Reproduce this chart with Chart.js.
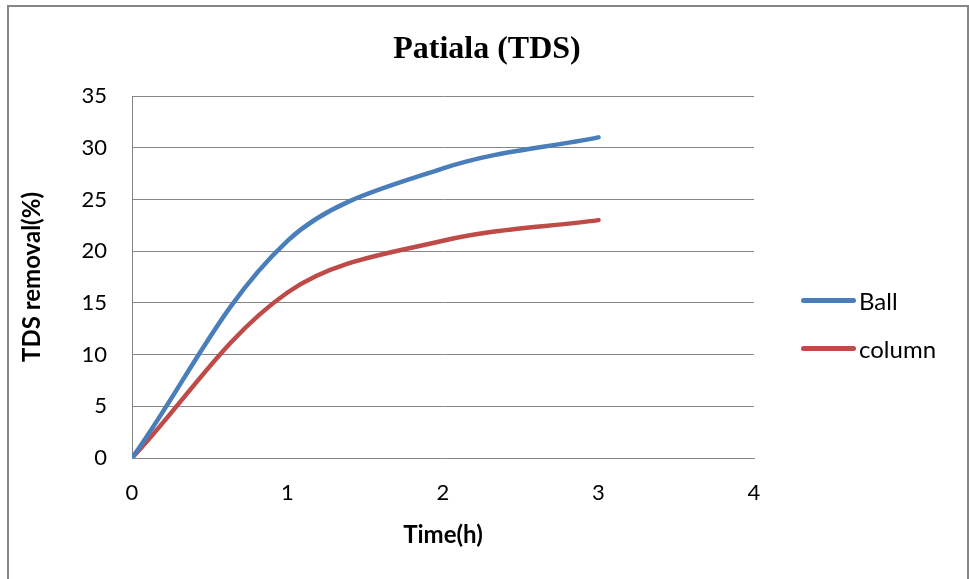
<!DOCTYPE html>
<html>
<head>
<meta charset="utf-8">
<title>Patiala (TDS)</title>
<script src="https://cdn.jsdelivr.net/npm/chart.js@4.4.0/dist/chart.umd.min.js"></script>
<style>
    body { margin: 0; background: #fff; overflow: hidden; }
    #frame { position: absolute; left: 7px; top: 5px; width: 958px; height: 700px; border: 2px solid #868686; }
    #wrap { position: absolute; left: 0; top: 0; width: 969px; height: 579px; }
    #title { position: absolute; left: 0; top: 28px; width: 974px; text-align: center;
             font: bold 32px "Liberation Serif", serif; line-height: 38px; color: #000; }
    #legend { position: absolute; left: 801px; top: 276px; font: 24px Lato, sans-serif; color: #000; }
    #legend .item { display: flex; align-items: center; height: 48px; }
    #legend .swatch { width: 55px; height: 5px; border-radius: 3px; margin-right: 3px; }
</style>
</head>
<body>
<div id="frame"></div>
<div id="wrap"><canvas id="tdsChart" width="969" height="579"></canvas></div>
<div id="title">Patiala (TDS)</div>
<div id="legend"></div>
<script>
// Patiala TDS removal over time

const timeH = [0, 1, 2, 3];
const ballRemoval = [0, 21, 28, 31];
const columnRemoval = [0, 16, 21, 23];
const xTicks = [0, 1, 2, 3, 4];
const yTicks = [0, 5, 10, 15, 20, 25, 30, 35];

function toPoints(values) {
    return timeH.map((t, i) => ({ x: t, y: values[i] }));
}

// HTML legend built from the datasets
const htmlLegend = {
    id: 'htmlLegend',
    afterUpdate(chart) {
        const box = document.getElementById('legend');
        box.innerHTML = '';
        chart.data.datasets.forEach(ds => {
            const item = document.createElement('div');
            item.className = 'item';
            const sw = document.createElement('span');
            sw.className = 'swatch';
            sw.style.background = ds.borderColor;
            const txt = document.createElement('span');
            txt.textContent = ds.label;
            item.appendChild(sw);
            item.appendChild(txt);
            box.appendChild(item);
        });
    }
};

const ctx = document.getElementById('tdsChart').getContext('2d');
new Chart(ctx, {
    type: 'line',
    data: {
        datasets: [
            {
                label: 'Ball',
                data: toPoints(ballRemoval),
                borderColor: '#4a7ebb',
                backgroundColor: '#4a7ebb',
                borderWidth: 4.5,
                borderCapStyle: 'round',
                pointRadius: 0,
                tension: 0.35
            },
            {
                label: 'column',
                data: toPoints(columnRemoval),
                borderColor: '#be4b48',
                backgroundColor: '#be4b48',
                borderWidth: 4.5,
                borderCapStyle: 'round',
                pointRadius: 0,
                tension: 0.35
            }
        ]
    },
    options: {
        responsive: false,
        animation: false,
        layout: {
            padding: { top: 96, left: 18, right: 215, bottom: 29.6 }
        },
        plugins: {
            legend: { display: false },
            tooltip: { enabled: false },
            title: { display: false }
        },
        scales: {
            x: {
                type: 'linear',
                min: 0,
                max: 4,
                afterBuildTicks: s => { s.ticks = xTicks.map(v => ({ value: v })); },
                afterFit: s => { s.height = 91.4; },
                ticks: {
                    color: '#000',
                    font: { family: 'Lato, sans-serif', size: 22 },
                    padding: 22,
                    maxRotation: 0
                },
                grid: { display: false, drawTicks: false },
                border: { display: true, color: '#868686', width: 1 },
                title: {
                    display: true,
                    text: 'Time(h)',
                    color: '#000',
                    font: { family: 'Lato, sans-serif', size: 24, weight: 'bold', lineHeight: 1.2 },
                    padding: 0
                }
            },
            y: {
                min: 0,
                max: 35,
                afterBuildTicks: s => { s.ticks = yTicks.map(v => ({ value: v })); },
                afterFit: s => { s.width = 114; },
                ticks: {
                    color: '#000',
                    font: { family: 'Lato, sans-serif', size: 22 },
                    padding: 25
                },
                grid: { color: '#868686', lineWidth: 1, drawTicks: false },
                border: { display: true, color: '#868686', width: 1 },
                title: {
                    display: true,
                    text: 'TDS removal(%)',
                    color: '#000',
                    font: { family: 'Lato, sans-serif', size: 24, weight: 'bold', lineHeight: 1.2 },
                    padding: 0
                }
            }
        }
    },
    plugins: [htmlLegend]
});
</script>
</body>
</html>
